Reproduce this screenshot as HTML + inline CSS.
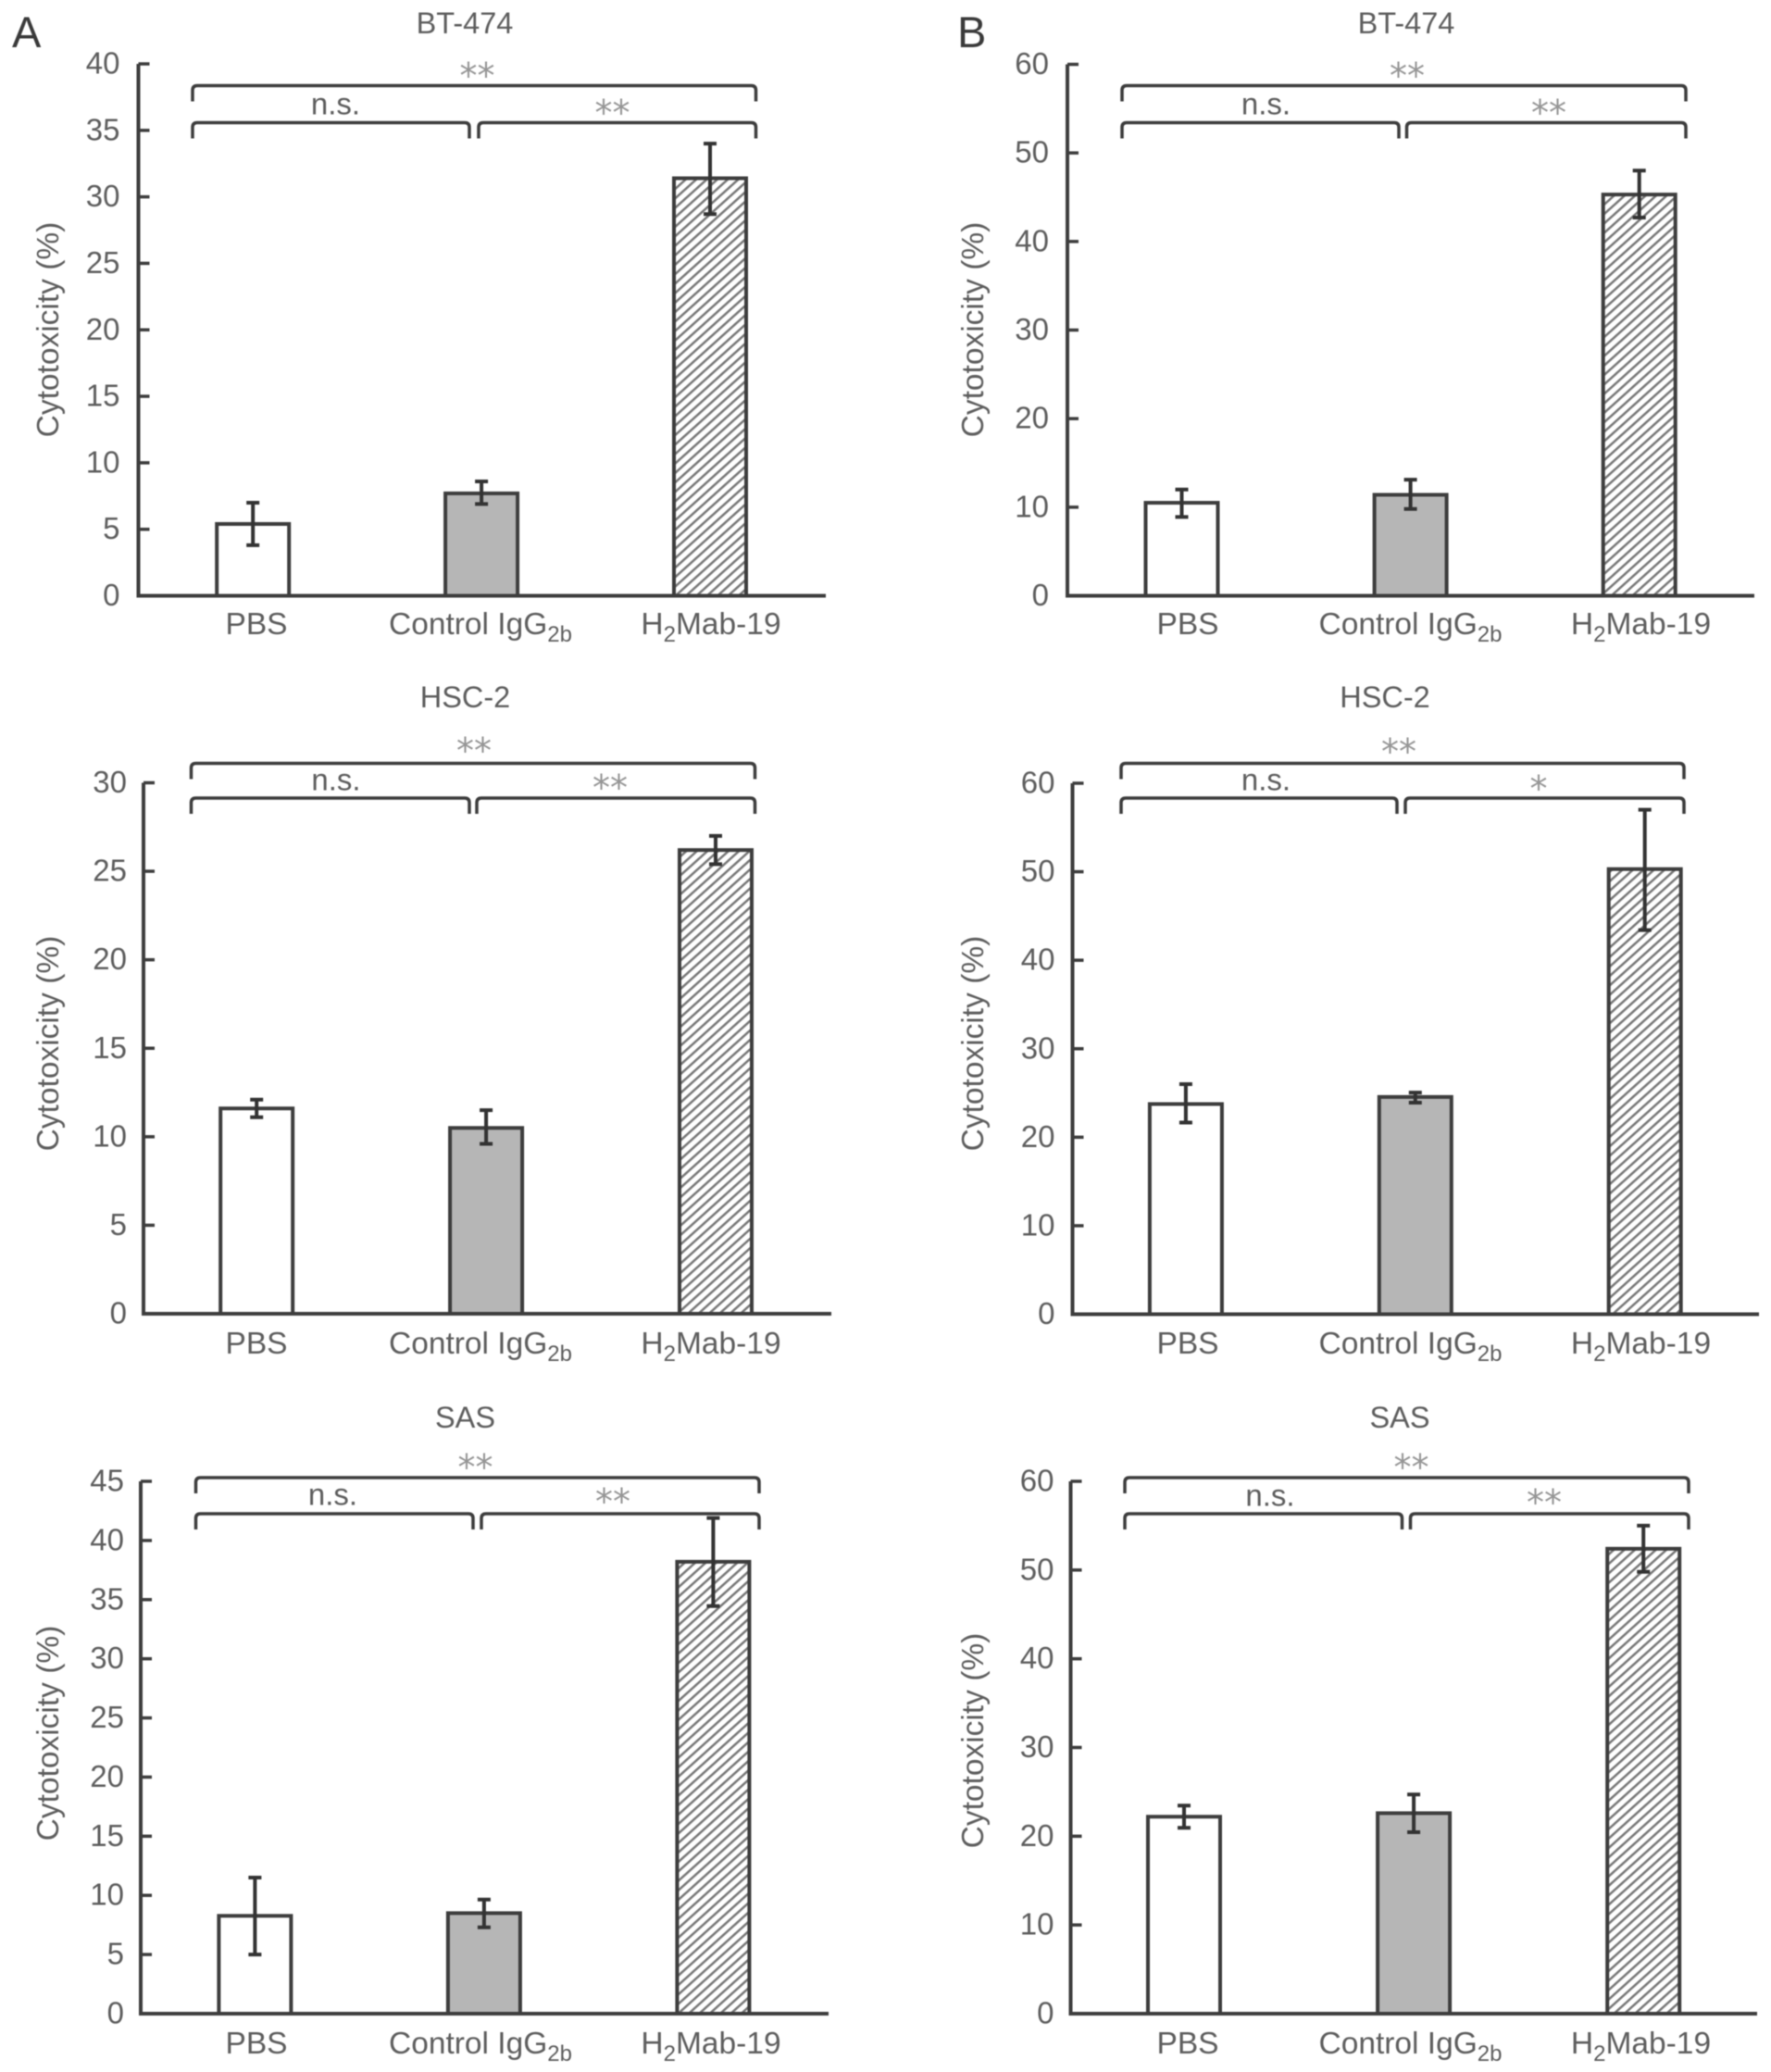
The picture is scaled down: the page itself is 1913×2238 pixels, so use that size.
<!DOCTYPE html>
<html lang="en">
<head>
<meta charset="utf-8">
<title>Cytotoxicity bar charts</title>
<style>
  html, body { margin: 0; padding: 0; background: #fff; }
  svg { display: block; filter: blur(0.6px); }
  text { font-family: "Liberation Sans", sans-serif; fill: #5e5e5e; }
  .star { font-family: "DejaVu Sans", sans-serif; fill: #969696; }
</style>
</head>
<body>
<svg id="figure" xmlns="http://www.w3.org/2000/svg" width="1913" height="2238" viewBox="0 0 1913 2238">
  <defs>
    <pattern id="hatch" width="7.6" height="7.6" patternUnits="userSpaceOnUse" patternTransform="rotate(-42)">
      <rect width="7.6" height="7.6" fill="#ffffff"></rect>
      <rect width="7.6" height="2.5" fill="#787878"></rect>
    </pattern>
  </defs>
  <rect width="1913" height="2238" fill="#ffffff"></rect>
  <text x="13" y="51" font-size="47" style="fill:#3a3a3a">A</text>
  <text x="1034" y="51" font-size="47" style="fill:#3a3a3a">B</text>
</svg>
<script>
const categories = ["PBS", "Control IgG2b", "H2Mab-19"];

const ticksA1 = [0, 5, 10, 15, 20, 25, 30, 35, 40];
const valuesA1 = [5.4, 7.7, 31.4];
const lowerA1 = [3.8, 6.9, 28.7];
const upperA1 = [7.0, 8.6, 34.0];
const sigA1 = ["**", "n.s.", "**"];

const ticksB1 = [0, 10, 20, 30, 40, 50, 60];
const valuesB1 = [10.5, 11.4, 45.3];
const lowerB1 = [8.9, 9.8, 42.7];
const upperB1 = [12.0, 13.1, 48.0];
const sigB1 = ["**", "n.s.", "**"];

const ticksA2 = [0, 5, 10, 15, 20, 25, 30];
const valuesA2 = [11.6, 10.5, 26.2];
const lowerA2 = [11.1, 9.6, 25.4];
const upperA2 = [12.1, 11.5, 27.0];
const sigA2 = ["**", "n.s.", "**"];

const ticksB2 = [0, 10, 20, 30, 40, 50, 60];
const valuesB2 = [23.75, 24.55, 50.3];
const lowerB2 = [21.65, 23.9, 43.4];
const upperB2 = [26.0, 25.05, 57.0];
const sigB2 = ["**", "n.s.", "*"];

const ticksA3 = [0, 5, 10, 15, 20, 25, 30, 35, 40, 45];
const valuesA3 = [8.27, 8.5, 38.2];
const lowerA3 = [5.0, 7.3, 34.45];
const upperA3 = [11.5, 9.65, 41.9];
const sigA3 = ["**", "n.s.", "**"];

const ticksB3 = [0, 10, 20, 30, 40, 50, 60];
const valuesB3 = [22.2, 22.6, 52.4];
const lowerB3 = [20.95, 20.45, 49.8];
const upperB3 = [23.45, 24.7, 55.0];
const sigB3 = ["**", "n.s.", "**"];

const SVG_NS = "http://www.w3.org/2000/svg";
const AXIS_COLOR = "#3d3d3d";
const root = document.getElementById("figure");

function shape(parent, tag, attrs) {
  const el = document.createElementNS(SVG_NS, tag);
  for (const k in attrs) el.setAttribute(k, attrs[k]);
  parent.appendChild(el);
  return el;
}

function bracketPath(x1, x2, y, yDrop) {
  const r = 5;
  return "M" + x1 + " " + yDrop + "V" + (y + r) + "Q" + x1 + " " + y + " " + (x1 + r) + " " + y +
         "H" + (x2 - r) + "Q" + x2 + " " + y + " " + x2 + " " + (y + r) + "V" + yDrop;
}

function categoryLabel(parent, label, x, y) {
  const t = shape(parent, "text", { x: x, y: y, "font-size": 33.5, "text-anchor": "middle" });
  const m = label.match(/^(.*?IgG|H)(2b?)(.*)$/);
  if (!m) { t.textContent = label; return t; }
  const a = shape(t, "tspan", {});
  a.textContent = m[1];
  const s = shape(t, "tspan", { dy: 8, "font-size": 24 });
  s.textContent = m[2];
  if (m[3]) {
    const c = shape(t, "tspan", { dy: -8 });
    c.textContent = m[3];
  }
  return t;
}

function drawPanel(p) {
  const key = p.key;
  const yMax = p.ticks[p.ticks.length - 1];
  const yScale = v => p.yBase - (v / yMax) * (p.yBase - p.yTop);
  const xBand = i => p.firstCentre + i * p.step;
  const barWidth = 78;

  const g = shape(root, "g", {});
  
  

  const title = shape(g, "text", { x: p.titleX, y: p.titleY + 11, "font-size": 32.5, "text-anchor": "middle" });
  title.textContent = p.title;
  
  

  const yLabel = shape(g, "text", {
    x: 0, y: 0, "font-size": 33.5, "text-anchor": "middle",
    transform: "translate(" + (p.yLabelX + 11) + " " + p.yLabelY + ") rotate(-90)"
  });
  yLabel.textContent = "Cytotoxicity (%)";
  
  

  p.ticks.forEach(function (tick) {
    const y = yScale(tick);
    if (tick > 0) {
      const mark = shape(g, "line", { x1: p.axisX, x2: p.axisX + 12, y1: y, y2: y, stroke: AXIS_COLOR, "stroke-width": 3.5 });
      
      
    }
    const lab = shape(g, "text", { x: p.axisX - p.tickGap, y: y + 10.5, "font-size": 33, "text-anchor": "end" });
    lab.textContent = tick;
    
    
  });

  const fills = ["#ffffff", "#b6b6b6", "url(#hatch)"];
  p.values.forEach(function (v, i) {
    const cx = xBand(i);
    const bar = shape(g, "rect", {
      x: cx - barWidth / 2, y: yScale(v), width: barWidth, height: yScale(0) - yScale(v),
      fill: fills[i], stroke: AXIS_COLOR, "stroke-width": 4
    });
    
    

    const yHi = yScale(p.upper[i]);
    const yLo = yScale(p.lower[i]);
    const err = shape(g, "path", {
      d: "M" + cx + " " + yHi + "V" + yLo + "M" + (cx - 7) + " " + yHi + "H" + (cx + 7) + "M" + (cx - 7) + " " + yLo + "H" + (cx + 7),
      stroke: "#333333", "stroke-width": 4, fill: "none"
    });
    
    

    const lab = categoryLabel(g, categories[i], p.labelX[i], p.labelY + 11);
    
    
  });

  const axis = shape(g, "path", {
    d: "M" + p.axisX + " " + yScale(yMax) + "V" + yScale(0) + "H" + p.axisEnd,
    stroke: AXIS_COLOR, "stroke-width": 4, fill: "none"
  });
  
  

  const bAll = shape(g, "path", { d: bracketPath(p.bx[0], p.bx[3], p.by[0], p.by[0] + 17), stroke: AXIS_COLOR, "stroke-width": 3.5, fill: "none" });
  
  

  const bLeft = shape(g, "path", { d: bracketPath(p.bx[0], p.bx[1], p.by[1], p.by[1] + 17), stroke: AXIS_COLOR, "stroke-width": 3.5, fill: "none" });
  
  

  const bRight = shape(g, "path", { d: bracketPath(p.bx[2], p.bx[3], p.by[1], p.by[1] + 17), stroke: AXIS_COLOR, "stroke-width": 3.5, fill: "none" });
  
  

  p.sig.forEach(function (s, i) {
    const isStar = s.indexOf("*") >= 0;
    const t = shape(g, "text", {
      x: p.sigX[i], y: p.sigY[i] + (isStar ? 19 : 8.5),
      "font-size": isStar ? 38 : 33, "text-anchor": "middle"
    });
    if (isStar) t.setAttribute("class", "star");
    t.textContent = s;
    
    
  });
}

const xA = [277, 519, 768];
const xB = [1283, 1523.5, 1772.5];

drawPanel({ key: "a-bt474", title: "BT-474", ticks: ticksA1, values: valuesA1, lower: lowerA1, upper: upperA1, sig: sigA1,
  axisX: 149.5, axisEnd: 892, yTop: 69, yBase: 643.5, firstCentre: 273.2, step: 246.9, tickGap: 20,
  titleX: 502, titleY: 25, yLabelX: 52, yLabelY: 356, labelX: xA, labelY: 674,
  bx: [208, 507, 517, 816.5], by: [92.5, 132.5], sigX: [515.5, 362.5, 661.5], sigY: [76, 115, 116] });

drawPanel({ key: "b-bt474", title: "BT-474", ticks: ticksB1, values: valuesB1, lower: lowerB1, upper: upperB1, sig: sigB1,
  axisX: 1153, axisEnd: 1895, yTop: 69.5, yBase: 643.5, firstCentre: 1276.5, step: 247.1, tickGap: 20,
  titleX: 1519, titleY: 25, yLabelX: 1051, yLabelY: 356, labelX: xB, labelY: 674,
  bx: [1212, 1511, 1519.5, 1821], by: [92.5, 132.5], sigX: [1520, 1367.5, 1673], sigY: [76, 115, 116] });

drawPanel({ key: "a-hsc2", title: "HSC-2", ticks: ticksA2, values: valuesA2, lower: lowerA2, upper: upperA2, sig: sigA2,
  axisX: 155, axisEnd: 898, yTop: 845.5, yBase: 1419, firstCentre: 277.2, step: 247.9, tickGap: 18,
  titleX: 502.5, titleY: 753, yLabelX: 52, yLabelY: 1127, labelX: xA, labelY: 1451,
  bx: [206.5, 507, 515, 815.5], by: [824.5, 862], sigX: [512, 363, 659], sigY: [805, 845, 845] });

drawPanel({ key: "b-hsc2", title: "HSC-2", ticks: ticksB2, values: valuesB2, lower: lowerB2, upper: upperB2, sig: sigB2,
  axisX: 1158.5, axisEnd: 1900, yTop: 846, yBase: 1419.5, firstCentre: 1280.9, step: 247.9, tickGap: 19,
  titleX: 1496, titleY: 753, yLabelX: 1051, yLabelY: 1127, labelX: xB, labelY: 1451,
  bx: [1211, 1509, 1518, 1819], by: [824.5, 862], sigX: [1511, 1367.5, 1662], sigY: [806, 845, 846] });

drawPanel({ key: "a-sas", title: "SAS", ticks: ticksA3, values: valuesA3, lower: lowerA3, upper: upperA3, sig: sigA3,
  axisX: 152, axisEnd: 895, yTop: 1600, yBase: 2175, firstCentre: 275.4, step: 247.5, tickGap: 18,
  titleX: 502.5, titleY: 1531, yLabelX: 52, yLabelY: 1872, labelX: xA, labelY: 2207,
  bx: [211.5, 511, 520, 820], by: [1596, 1635], sigX: [513.5, 359.5, 662], sigY: [1579, 1617, 1616] });

drawPanel({ key: "b-sas", title: "SAS", ticks: ticksB3, values: valuesB3, lower: lowerB3, upper: upperB3, sig: sigB3,
  axisX: 1156.5, axisEnd: 1898, yTop: 1600, yBase: 2175, firstCentre: 1279, step: 248.1, tickGap: 18,
  titleX: 1512, titleY: 1531, yLabelX: 1051, yLabelY: 1880, labelX: xB, labelY: 2207,
  bx: [1215, 1514.5, 1523.5, 1824], by: [1596, 1635], sigX: [1524.5, 1372, 1668], sigY: [1579, 1618, 1617] });
</script>
</body>
</html>
